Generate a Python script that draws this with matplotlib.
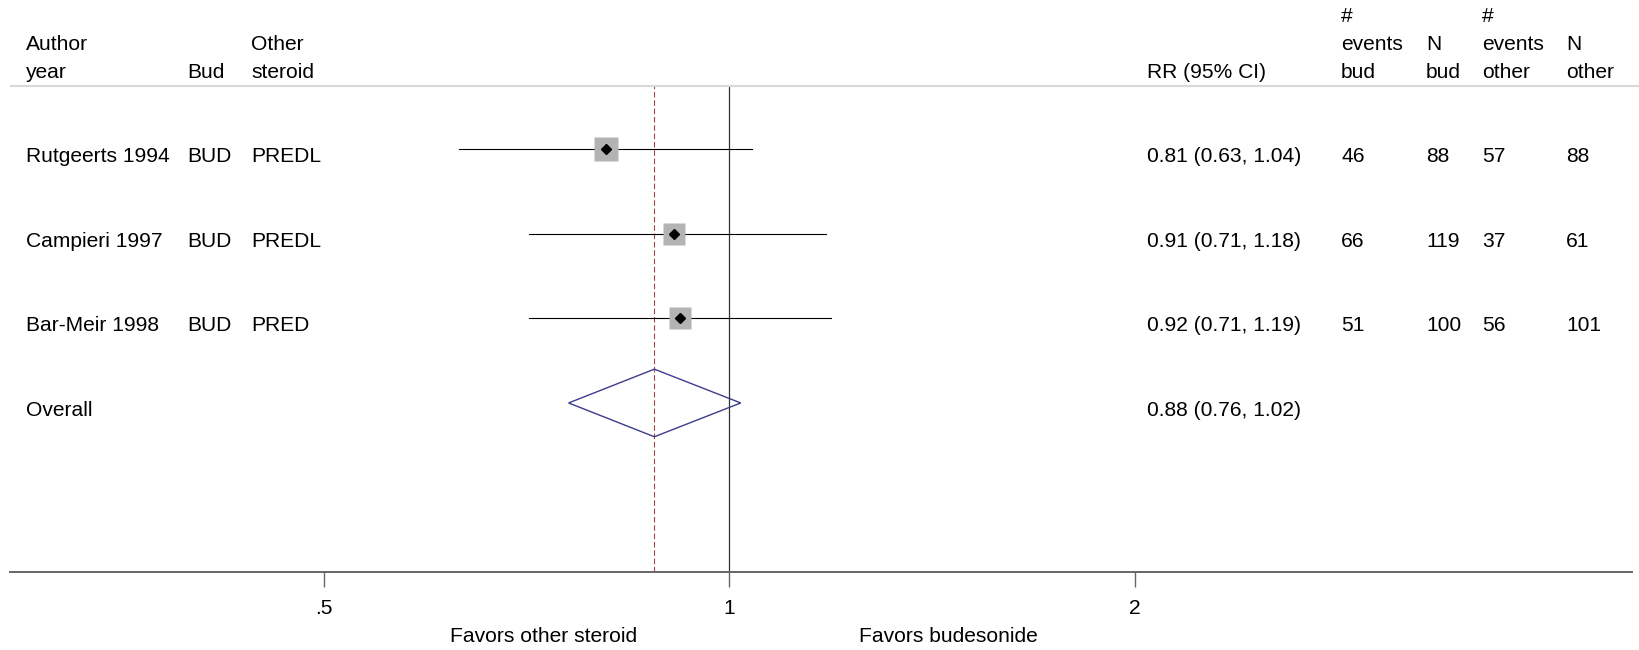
import numpy as np
import matplotlib
matplotlib.use("Agg")
import matplotlib.pyplot as plt
import matplotlib.transforms as mtransforms
from matplotlib.patches import Polygon

plt.rcParams['font.family'] = ['Liberation Sans', 'DejaVu Sans']
FS = 15.1

# study level data
studies = ["Rutgeerts 1994", "Campieri 1997", "Bar-Meir 1998"]
bud_arm = ["BUD", "BUD", "BUD"]
other_arm = ["PREDL", "PREDL", "PRED"]
rr = [0.81, 0.91, 0.92]
rr_lo = [0.63, 0.71, 0.71]
rr_hi = [1.04, 1.18, 1.19]
events_bud = [46, 66, 51]
n_bud = [88, 119, 100]
events_other = [57, 37, 56]
n_other = [88, 61, 101]
weights = [35.5, 33.5, 31.0]

# pooled estimate
overall_label = "Overall"
overall_rr = 0.88
overall_lo = 0.76
overall_hi = 1.02

# axis
tick_values = [0.5, 1, 2]
tick_labels = [".5", "1", "2"]
favors_left = "Favors other steroid"
favors_right = "Favors budesonide"

# header columns (x in pixels, lines listed top to bottom)
headers = [
    (26, "Author\nyear"),
    (187, "Bud"),
    (251, "Other\nsteroid"),
    (1147, "RR (95% CI)"),
    (1341, "#\nevents\nbud"),
    (1426, "N\nbud"),
    (1482, "#\nevents\nother"),
    (1566, "N\nother"),
]

W, H = 1639, 650
fig = plt.figure(figsize=(W / 100, H / 100), dpi=100)

# plot region spans the whole width, between header rule and axis line
ax_left, ax_right = 10, 1632
ax_top, ax_bottom = 86, 572
ax = fig.add_axes([ax_left / W, 1 - ax_bottom / H, (ax_right - ax_left) / W, (ax_bottom - ax_top) / H])
ax.set_xscale('log', base=2)
ax.set_xlim(0.2925, 4.68)
ax.set_ylim(5.0, -0.75)

for s in ['top', 'left', 'right']:
    ax.spines[s].set_visible(False)
ax.spines['bottom'].set_color('#666666')
ax.spines['bottom'].set_linewidth(1.4)
ax.set_yticks([])
ax.set_xticks(tick_values)
ax.set_xticklabels(tick_labels, fontsize=FS)
ax.xaxis.set_minor_locator(matplotlib.ticker.NullLocator())
ax.tick_params(axis='x', length=10.8, width=1, color='#666666', pad=8.5)

# reference lines
ax.axvline(1, color='#333333', lw=0.9)
ax.axvline(overall_rr, color='#a04848', lw=0.8, dashes=(5, 2.5))

rows = np.arange(len(studies))
for i in rows:
    ax.plot([rr_lo[i], rr_hi[i]], [i, i], color='black', lw=0.8, zorder=2)
    side = 17.0 * np.sqrt(weights[i] / max(weights))
    ax.plot(rr[i], i, marker='s', ms=side, color='#b3b3b3', mec='none', zorder=3)
    ax.plot(rr[i], i, marker='D', ms=5.5, color='black', zorder=4)

yo = len(studies)
dia = Polygon([(overall_lo, yo), (overall_rr, yo - 0.4), (overall_hi, yo), (overall_rr, yo + 0.4)],
              closed=True, fill=False, edgecolor='#3c3c8c', lw=1.0, zorder=3)
ax.add_patch(dia)

# table text: x in figure pixels, y in data rows
trans = mtransforms.blended_transform_factory(fig.transFigure, ax.transData)
base_off = 0.154


def put(xpx, y, s):
    ax.text(xpx / W, y + base_off, s, transform=trans, fontsize=FS, va='baseline', ha='left', clip_on=False)


for i in rows:
    put(26, i, studies[i])
    put(187, i, bud_arm[i])
    put(251, i, other_arm[i])
    put(1147, i, f"{rr[i]:.2f} ({rr_lo[i]:.2f}, {rr_hi[i]:.2f})")
    put(1341, i, str(events_bud[i]))
    put(1426, i, str(n_bud[i]))
    put(1482, i, str(events_other[i]))
    put(1566, i, str(n_other[i]))
put(26, yo, overall_label)
put(1147, yo, f"{overall_rr:.2f} ({overall_lo:.2f}, {overall_hi:.2f})")

# headers: last line sits on baseline 78px, lines 28px apart
for xpx, label in headers:
    lines = label.split("\n")
    for k, line in enumerate(reversed(lines)):
        fig.text(xpx / W, 1 - (78 - 28 * k) / H, line, fontsize=FS, va='baseline', ha='left')

# header rule
fig.add_artist(plt.Line2D([11 / W, 1.0], [1 - 86 / H, 1 - 86 / H], color='#d9d9d9', lw=1.5))

# favors labels
fig.text(544 / W, 1 - 642 / H, favors_left, fontsize=FS, va='baseline', ha='center')
fig.text(948 / W, 1 - 642 / H, favors_right, fontsize=FS, va='baseline', ha='center')

fig.savefig("out.png", dpi=100)
